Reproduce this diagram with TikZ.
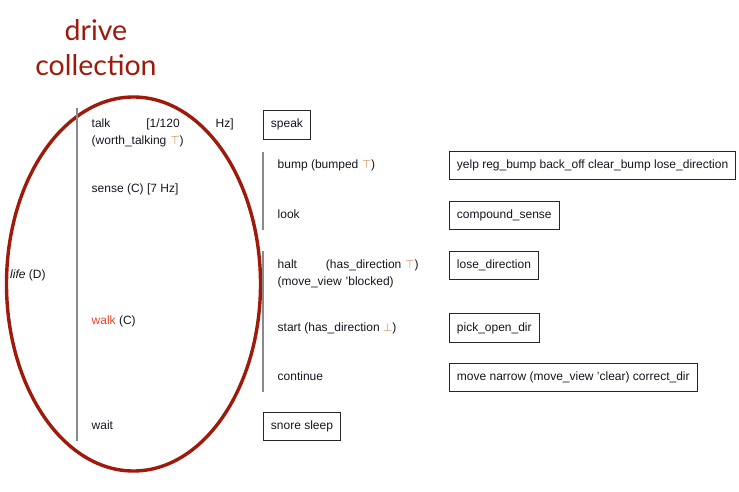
\documentclass[tikz,border=0pt]{standalone}
\usepackage{fontspec}
\setmainfont{Liberation Sans}
\newfontfamily\titlefont{Lato}
\usetikzlibrary{positioning}
\definecolor{driveRed}{HTML}{9E1B0B}
\definecolor{walkRed}{HTML}{E8442A}
\definecolor{markOrange}{HTML}{C8742E}
\definecolor{bracketGray}{HTML}{8A8A8A}
\definecolor{planInk}{HTML}{151520}
\newcommand{\tsym}{\textcolor{markOrange}{$\top$}}
\newcommand{\bsym}{\textcolor{markOrange}{$\bot$}}

\begin{document}
\begin{tikzpicture}[
    x=1pt, y=-1pt,
    title/.style={
        anchor=base,
        align=center,
        inner sep=0pt,
        text=driveRed,
        font=\titlefont\fontsize{28.5}{35}\selectfont
    },
    lbl/.style={
        anchor=base west,
        inner sep=0pt,
        text=planInk,
        font=\fontsize{12}{16.5}\selectfont
    },
    act/.style={
        rectangle,
        anchor=base west,
        draw=black!85,
        line width=0.9pt,
        inner xsep=7.5pt,
        inner ysep=8.5pt,
        text=planInk,
        font=\fontsize{12}{14}\selectfont
    },
    bracket/.style={
        draw=bracketGray,
        line width=1.8pt
    },
    driveloop/.style={
        draw=driveRed,
        line width=3.4pt
    }
]
\useasboundingbox (0,0) rectangle (739,492);

% Title
\node[title] (title) at (96,76) {drive\\collection};

% Ring round the drive collection
\draw[driveloop] (133.5,284) ellipse [x radius=127pt, y radius=187pt];

% Drives
\node[lbl, text width=142pt, align=left] (talk) at (91.5,128)
    {talk\hfill[1/120\hfill Hz]\\(worth\_talking \tsym)};
\node[lbl] (sense) at (91.5,193) {sense (C) [7 Hz]};
\node[lbl] (life) at (10,278) {\textit{life} (D)};
\node[lbl] (walk) at (91.5,324.5) {\textcolor{walkRed}{walk} (C)};
\node[lbl] (wait) at (91.5,429.5) {wait};

% Competences
\node[lbl] (bump) at (277.5,168.5) {bump (bumped \tsym)};
\node[lbl] (look) at (277.5,218.5) {look};
\node[lbl, text width=141pt, align=left] (halt) at (277.5,268.5)
    {halt\hfill(has\_direction \tsym)\\(move\_view 'blocked)};
\node[lbl] (start) at (277.5,331) {start (has\_direction \bsym)};
\node[lbl] (continue) at (277.5,380.5) {continue};

% Action patterns
\node[act] (speak) at (263,128) {speak};
\node[act] (snore) at (263,429.5) {snore sleep};
\node[act] (yelp) at (449,168.5) {yelp reg\_bump back\_off clear\_bump lose\_direction};
\node[act] (compound) at (449,218.5) {compound\_sense};
\node[act] (lose) at (449,268.5) {lose\_direction};
\node[act] (pick) at (449,331) {pick\_open\_dir};
\node[act] (move) at (449,380.5) {move narrow (move\_view 'clear) correct\_dir};

% Brackets
\coordinate (lifeTop) at (77,108);
\coordinate (lifeBot) at (77,441);
\coordinate (senseTop) at (263,152);
\coordinate (senseBot) at (263,230);
\coordinate (walkTop) at (263,251);
\coordinate (walkBot) at (263,392);
\draw[bracket] (lifeTop) -- (lifeBot);
\draw[bracket] (senseTop) -- (senseBot);
\draw[bracket] (walkTop) -- (walkBot);

\end{tikzpicture}
\end{document}
